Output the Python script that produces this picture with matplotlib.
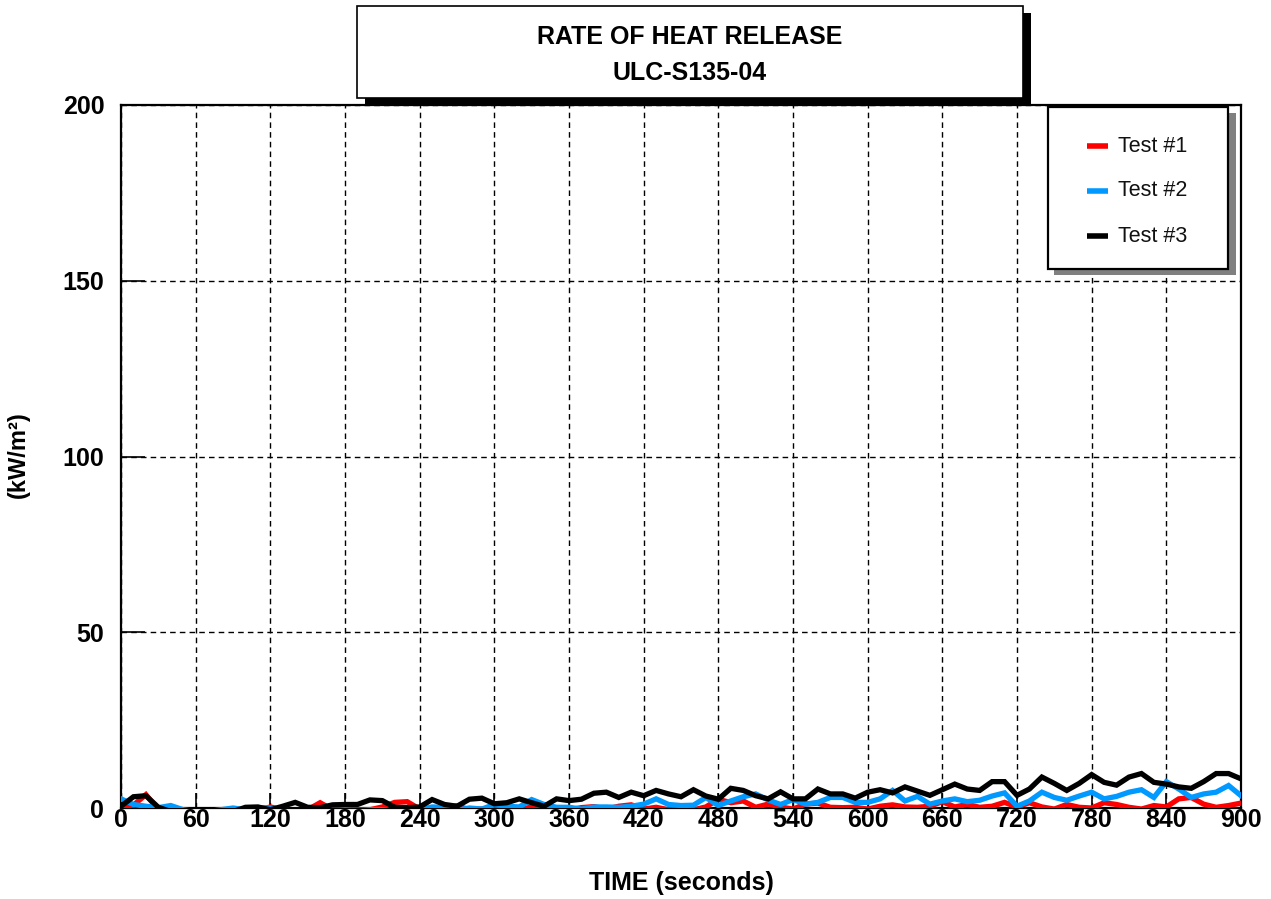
import matplotlib
matplotlib.use("Agg")
import matplotlib.pyplot as plt
from matplotlib.patches import Rectangle
from matplotlib.lines import Line2D

plt.rcParams['font.family'] = ['Liberation Sans', 'DejaVu Sans']

# time axis (seconds), one reading every 10 s
time_s = list(range(0, 901, 10))

# Test #1 (red)
test1 = [0.3, 0.8, 3.8, -0.5, -1.0, -1.2, -1.0, -1.5, -1.0, -1.2,
         -0.8, -0.6, 0.3, -0.5, -1.0, -0.5, 1.5, -0.5, -0.3, -0.5,
         -0.5, 0.3, 1.6, 1.8, -0.3, -0.5, 0.2, 0.6, -0.5, -0.3,
         -0.5, -0.3, -0.5, 0.3, -0.5, -0.3, -0.5, 0.1, 0.4, -0.3,
         0.5, 0.9, -0.3, 0.2, -0.5, -0.3, -0.5, 0.3, 2.5, 1.5,
         2.0, 0.2, 1.1, 0.3, -0.3, 1.1, 1.4, 0.2, 0.1, 0.2,
         -0.3, 0.5, 0.9, 0.3, 0.2, 0.5, 1.8, 0.3, 1.0, 0.2,
         0.5, 1.6, 0.3, 1.5, 0.3, -0.3, 1.0, 0.2, 0.0, 1.5,
         1.0, 0.2, -0.3, 0.7, 0.3, 2.6, 3.0, 1.1, 0.2, 0.7,
         1.4]

# Test #2 (blue)
test2 = [2.6, 1.0, 0.5, 0.1, 0.7, -0.5, -1.0, -1.0, -0.5, 0.0,
         -0.5, 0.1, 0.0, -1.0, -1.0, -1.0, -0.5, -1.0, -0.5, -1.0,
         -0.5, -0.5, -1.0, -0.5, -0.5, 0.3, 0.2, -0.5, 0.0, -0.3,
         1.0, 0.5, 0.3, 2.4, 1.0, 0.2, 0.2, -0.3, 0.3, 0.3,
         0.2, 0.5, 1.1, 2.6, 1.0, 0.7, 0.8, 3.0, 0.7, 2.0,
         3.2, 4.0, 2.3, 1.0, 2.4, 1.1, 1.6, 3.0, 3.0, 1.6,
         1.6, 2.6, 5.0, 2.0, 3.3, 1.1, 2.0, 2.6, 1.8, 2.2,
         3.4, 4.3, 0.5, 2.0, 4.5, 3.0, 2.2, 3.4, 4.5, 2.6,
         3.3, 4.5, 5.2, 3.0, 7.5, 5.4, 3.0, 4.0, 4.5, 6.4,
         3.5]

# Test #3 (black)
test3 = [0.5, 3.2, 3.5, 0.2, -1.0, -1.5, -1.5, -2.0, -1.5, -1.0,
         0.2, 0.3, -0.5, 0.5, 1.6, 0.2, 0.1, 0.9, 1.0, 1.0,
         2.3, 2.1, 0.2, 0.1, 0.3, 2.4, 1.0, 0.5, 2.5, 2.8,
         1.2, 1.5, 2.6, 1.5, 0.5, 2.6, 2.1, 2.5, 4.2, 4.5,
         3.0, 4.5, 3.5, 5.0, 4.0, 3.2, 5.2, 3.4, 2.5, 5.6,
         5.0, 3.5, 2.6, 4.6, 2.6, 2.6, 5.4, 4.0, 4.0, 2.8,
         4.5, 5.2, 4.3, 6.0, 4.8, 3.6, 5.2, 6.8, 5.4, 5.0,
         7.5, 7.5, 3.6, 5.4, 8.8, 7.0, 5.0, 7.0, 9.5, 7.3,
         6.5, 8.8, 9.8, 7.3, 6.8, 6.0, 5.6, 7.5, 9.8, 9.8,
         8.3]

series_names = ['Test #1', 'Test #2', 'Test #3']
series_colors = ['#ff0000', '#0099ff', '#000000']
x_ticks = list(range(0, 901, 60))
y_ticks = [0, 50, 100, 150, 200]

W, H = 1271, 899
fig = plt.figure(figsize=(W / 100, H / 100), dpi=100)
ax = fig.add_axes([121 / W, 1 - 808 / H, 1120 / W, 703 / H])

for vals, col in zip([test1, test2, test3], series_colors):
    ax.plot(time_s, vals, color=col, lw=3.8, solid_joinstyle='miter', zorder=3)

ax.set_xlim(0, 900)
ax.set_ylim(0, 200)
ax.set_xticks(x_ticks)
ax.set_yticks(y_ticks)
ax.grid(True, color='black', linestyle=(0, (4, 3)), linewidth=1.0, zorder=1)
ax.set_axisbelow(True)
ax.tick_params(axis='x', direction='in', length=11, width=1.2, pad=0, labelsize=18)
ax.tick_params(axis='y', direction='in', length=17, width=1.2, pad=12, labelsize=18)
for lab in ax.get_xticklabels() + ax.get_yticklabels():
    lab.set_fontweight('bold')
for sp in ax.spines.values():
    sp.set_linewidth(1.6)

ax.set_xlabel('TIME (seconds)', fontsize=18, fontweight='bold', labelpad=28)
fig.text(18 / W, 1 - 455 / H, '(kW/m²)', rotation=90, fontsize=17,
         fontweight='bold', ha='center', va='center')

# title box with black drop shadow
fig.add_artist(Rectangle((365 / W, 1 - 105 / H), 666 / W, 92 / H,
                         transform=fig.transFigure, facecolor='black',
                         edgecolor='none', zorder=5))
fig.add_artist(Rectangle((357 / W, 1 - 98 / H), 666 / W, 92 / H,
                         transform=fig.transFigure, facecolor='white',
                         edgecolor='black', linewidth=1.2, zorder=6))
fig.text(690 / W, 1 - 37 / H, 'RATE OF HEAT RELEASE', fontsize=18,
         fontweight='bold', ha='center', va='center', zorder=7)
fig.text(690 / W, 1 - 73 / H, 'ULC-S135-04', fontsize=18,
         fontweight='bold', ha='center', va='center', zorder=7)

# legend box with grey shadow
fig.add_artist(Rectangle((1054 / W, 1 - 275 / H), 182 / W, 162 / H,
                         transform=fig.transFigure, facecolor='#808080',
                         edgecolor='none', zorder=5))
fig.add_artist(Rectangle((1048 / W, 1 - 269 / H), 180 / W, 162 / H,
                         transform=fig.transFigure, facecolor='white',
                         edgecolor='black', linewidth=1.6, zorder=6))
for i, (name, col) in enumerate(zip(series_names, series_colors)):
    yy = 1 - (146 + 45 * i) / H
    fig.add_artist(Line2D([1087 / W, 1108 / W], [yy, yy], color=col, lw=4,
                          solid_capstyle='butt', transform=fig.transFigure, zorder=7))
    fig.text(1118 / W, yy, name, fontsize=15.5, ha='left', va='center',
             color='#111111', zorder=7)

fig.savefig('out.png', dpi=100)
